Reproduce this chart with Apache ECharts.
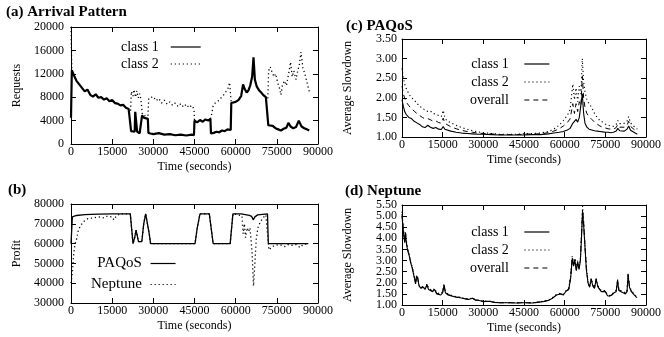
<!DOCTYPE html>
<html>
<head>
<meta charset="utf-8">
<script src="https://cdn.jsdelivr.net/npm/echarts@6/dist/echarts.min.js"></script>
<style>
  html, body { margin: 0; padding: 0; background: #fff; }
  #chart { width: 664px; height: 337px; }
</style>
</head>
<body>
<div id="chart"></div>
<script>
const timeMax = 90000
const timeStep = 15000

// (a) arrival pattern
const arrivalClass1T = [0, 300, 1000, 1500, 2000, 3000, 4000, 5000, 6000, 7000,
  8000, 9000, 10000, 11000, 12000, 13000, 14000, 15000, 16000, 17000,
  18000, 19000, 20000, 21000, 21700, 21900, 22500, 23200, 23400, 23900,
  24100, 25000, 25700, 25900, 26500, 27200, 28000, 28200, 29000, 30000,
  32000, 34000, 36000, 38000, 40000, 42000, 44000, 44800, 45000, 46000,
  47000, 48000, 49000, 50000, 50800, 51000, 52000, 53000, 54000, 55000,
  56000, 57000, 58200, 58400, 59000, 60000, 61000, 62000, 62700, 63300,
  64000, 64700, 65300, 66000, 66500, 67000, 67700, 68500, 69300, 70000,
  71000, 71700, 71900, 72500, 73500, 74500, 75500, 76500, 77500, 78500,
  79200, 80000, 81000, 82000, 83000, 84000, 85000, 86000, 86800]
const arrivalClass1 = [4500, 12600, 11800, 12000, 10800, 10200, 9600, 9000, 9300, 8400,
  8100, 8500, 7900, 8000, 7600, 7800, 7300, 7500, 7000, 6900,
  6600, 6700, 6200, 6000, 5700, 2200, 1900, 2100, 5500, 5300,
  2100, 1800, 2000, 4900, 4500, 4800, 4300, 1900, 1800, 1700,
  1850, 1600, 1700, 1500, 1600, 1450, 1600, 1500, 4000, 3700,
  4100, 3800, 4200, 4000, 4300, 1800, 1900, 2100, 2000, 2300,
  2200, 2500, 2400, 7000, 6800, 7200, 7500, 8200, 10200, 9400,
  8800, 9200, 10000, 11500, 14800, 11000, 9800, 9200, 8800, 8400,
  8000, 7800, 3200, 3000, 3100, 2700, 2500, 2300, 2600, 2800,
  3600, 3000, 2700, 2900, 4000, 3000, 2700, 2500, 2300]
const arrivalClass2T = [0, 300, 1000, 21700, 22000, 22600, 23000, 23500, 24000, 24500,
  25000, 25500, 26000, 27000, 28000, 28300, 29000, 30000, 31000, 32000,
  33000, 34000, 35000, 36000, 37000, 38000, 39000, 40000, 41000, 42000,
  43000, 44000, 44800, 45000, 46000, 50800, 51200, 51800, 52500, 53500,
  54500, 55500, 56500, 57200, 57800, 58200, 58400, 60000, 71700, 72000,
  72600, 73300, 74000, 74600, 75300, 76000, 76500, 77000, 77800, 78500,
  79300, 80000, 80600, 81200, 82000, 82600, 83200, 83800, 84500, 85200,
  86000, 86800]
const arrivalClass2 = [20000, 12600, null, 5700, 9000, 8200, 9300, 8000, 9100, 7900,
  8600, 7600, 5000, 4800, 4300, 7800, 7600, 8100, 7400, 7800,
  7000, 7500, 6800, 7200, 6600, 7000, 6400, 6900, 6300, 6800,
  6200, 6600, 6000, 4000, null, 4300, 5000, 6500, 7000, 7300,
  7800, 8300, 9000, 9500, 10500, 8000, 7000, null, 7800, 12500,
  13200, 12200, 11500, 12000, 10500, 9500, 8400, 10000, 10800, 10000,
  12000, 14000, 11500, 12500, 11000, 12500, 13500, 15700, 13000, 12000,
  10500, 9000]

// (b) profit
const profitPaqosT = [0, 500, 2000, 5000, 10000, 15000, 21600, 22600, 23200, 23700,
  24100, 24600, 25000, 25800, 26500, 27200, 27800, 28500, 29000, 45200,
  46000, 47000, 50400, 51800, 58000, 59000, 62000, 65000, 65800, 66400,
  67000, 68000, 71600, 71900, 86500]
const profitPaqos = [60000, 73500, 74200, 74600, 74900, 75000, 75000, 60000, 63000, 66800,
  66000, 61000, 60000, 61000, 70000, 75000, 74000, 65000, 60000, 60000,
  68000, 75000, 75000, 60000, 60000, 75000, 75000, 74200, 73800, 72000,
  73500, 74500, 75000, 60000, 60000]
const profitNeptuneT = [0, 500, 1000, 1500, 2000, 2700, 3500, 4500, 6000, 8000,
  10000, 12000, 13000, 15000, 15600, 16500, 18000, 21600, 22600, 23200,
  23700, 24100, 24600, 25000, 25800, 26500, 27200, 27800, 28500, 29000,
  45200, 46000, 47000, 50400, 51800, 58000, 59000, 61000, 62300, 62700,
  63200, 63600, 64200, 64700, 65200, 65600, 66000, 66500, 67000, 67500,
  68100, 69000, 70000, 71000, 71600, 72100, 73000, 74000, 76000, 78000,
  79000, 81000, 82000, 83500, 84500, 86500]
const profitNeptune = [40000, 45000, 55000, 60000, 62000, 67000, 69000, 71000, 72500, 73000,
  73500, 73000, 73800, 73500, 72000, 74000, 75000, 75000, 60000, 63000,
  66800, 66000, 61000, 60000, 61000, 70000, 75000, 74000, 65000, 60000,
  60000, 68000, 75000, 75000, 60000, 60000, 75000, 74500, 74000, 65000,
  70000, 63000, 68000, 66000, 68000, 62000, 55000, 38600, 50000, 62000,
  68000, 71000, 73000, 74500, 75000, 56800, 58000, 59000, 59500, 58500,
  59500, 59000, 59500, 58000, 59500, 60000]

// (c) PAQoS slowdown
const paqosT = [0, 500, 1000, 1500, 2500, 3500, 4500, 5500, 6500, 7500,
  8500, 9500, 10500, 11500, 12500, 13500, 14500, 15200, 15800, 16500,
  18000, 20000, 22000, 24000, 26000, 28000, 30000, 33000, 36000, 39000,
  42000, 45000, 48000, 51000, 54000, 56000, 58000, 59500, 61000, 62000,
  63000, 63600, 64200, 64800, 65400, 66000, 66500, 67000, 67500, 68200,
  69000, 70000, 71000, 72000, 73000, 74000, 75000, 76000, 77000, 78000,
  79000, 79600, 80300, 81000, 82000, 83000, 83600, 84300, 85000, 86000,
  86800]
const paqosClass1 = [1.95, 1.78, 1.65, 1.58, 1.5, 1.47, 1.4, 1.36, 1.32, 1.26,
  1.24, 1.3, 1.25, 1.22, 1.24, 1.2, 1.19, 1.27, 1.2, 1.17,
  1.15, 1.12, 1.1, 1.09, 1.08, 1.07, 1.07, 1.06, 1.05, 1.05,
  1.05, 1.05, 1.06, 1.06, 1.08, 1.1, 1.12, 1.14, 1.18, 1.22,
  1.35, 1.3, 1.45, 1.38, 1.5, 1.45, 2.1, 1.6, 1.35, 1.25,
  1.2, 1.18, 1.16, 1.15, 1.14, 1.13, 1.12, 1.12, 1.11, 1.12,
  1.15, 1.22, 1.16, 1.14, 1.15, 1.2, 1.28, 1.17, 1.13, 1.1,
  1.07]
const paqosClass2 = [2.75, 2.5, 2.35, 2.25, 2.1, 2.0, 1.95, 1.85, 1.8, 1.72,
  1.7, 1.65, 1.66, 1.6, 1.58, 1.55, 1.52, 1.68, 1.5, 1.42,
  1.36, 1.3, 1.24, 1.2, 1.16, 1.13, 1.11, 1.09, 1.07, 1.07,
  1.07, 1.08, 1.09, 1.1, 1.14, 1.2, 1.3, 1.42, 1.55, 1.7,
  2.35, 1.95, 2.25, 1.9, 2.3, 2.1, 3.0, 2.4, 2.15, 1.95,
  1.85, 1.75, 1.6, 1.5, 1.42, 1.38, 1.33, 1.3, 1.28, 1.27,
  1.32, 1.42, 1.34, 1.3, 1.35, 1.4, 1.52, 1.36, 1.3, 1.25,
  1.2]
const paqosOverall = [2.3, 2.1, 1.98, 1.9, 1.8, 1.72, 1.66, 1.6, 1.55, 1.5,
  1.46, 1.47, 1.44, 1.4, 1.41, 1.37, 1.35, 1.48, 1.35, 1.3,
  1.26, 1.21, 1.17, 1.14, 1.12, 1.1, 1.09, 1.08, 1.06, 1.06,
  1.06, 1.07, 1.08, 1.08, 1.11, 1.15, 1.21, 1.28, 1.37, 1.46,
  1.85, 1.6, 1.85, 1.65, 1.9, 1.8, 2.55, 2.0, 1.75, 1.6,
  1.52, 1.45, 1.38, 1.33, 1.28, 1.25, 1.23, 1.21, 1.2, 1.2,
  1.24, 1.32, 1.25, 1.22, 1.25, 1.3, 1.4, 1.27, 1.22, 1.17,
  1.13]

// (d) Neptune slowdown
const neptuneT = [0, 300, 700, 1000, 1300, 1700, 2200, 2700, 3200, 3700,
  4200, 4600, 5000, 5400, 5800, 6300, 7000, 7800, 8500, 9200,
  9800, 10500, 11300, 12000, 12800, 13500, 14300, 15000, 15500, 16000,
  17000, 18500, 20000, 21500, 23000, 24500, 26000, 27000, 28500, 30000,
  32000, 34000, 36000, 38000, 40000, 42000, 44000, 46000, 48000, 50000,
  52000, 54000, 55500, 57000, 58500, 59500, 60500, 61500, 62200, 62800,
  63300, 63800, 64300, 64800, 65300, 65800, 66200, 66600, 67000, 67500,
  68000, 68600, 69200, 69800, 70400, 71000, 71600, 72300, 72900, 73500,
  74200, 75000, 75800, 76600, 77400, 78200, 79000, 79500, 80000, 80800,
  81600, 82400, 83000, 83400, 83900, 84600, 85300, 86000, 86600]
const neptuneClass1 = [5.0, 4.6, 4.1, 3.8, 4.2, 3.7, 3.4, 3.2, 2.9, 2.7,
  2.75, 2.2, 1.95, 2.3, 2.2, 1.85, 1.75, 1.8, 1.7, 1.9,
  1.7, 1.75, 1.6, 1.7, 1.5, 1.55, 1.45, 1.55, 1.9, 1.55,
  1.45, 1.4, 1.35, 1.33, 1.28, 1.25, 1.3, 1.22, 1.2, 1.15,
  1.17, 1.12, 1.1, 1.1, 1.1, 1.09, 1.1, 1.1, 1.09, 1.12,
  1.15, 1.2, 1.3, 1.45, 1.5, 1.45, 1.62, 1.7, 2.2, 3.1,
  2.75, 3.0, 2.55, 2.9, 2.6, 3.0, 4.0, 5.2, 4.6, 3.6,
  2.6, 2.0, 1.8, 2.15, 1.85, 1.75, 2.15, 1.8, 1.75, 1.6,
  1.55, 1.6, 1.42, 1.4, 1.45, 1.55, 1.6, 2.1, 1.65, 1.6,
  1.55, 1.5, 1.6, 2.35, 1.8, 1.6, 1.5, 1.42, 1.33]
const neptuneClass2 = [5.2, 4.7, 4.2, 3.9, 4.3, 3.8, 3.5, 3.25, 2.95, 2.75,
  2.8, 2.25, 2.0, 2.35, 2.25, 1.9, 1.8, 1.85, 1.75, 1.95,
  1.75, 1.8, 1.65, 1.75, 1.55, 1.6, 1.5, 1.6, 1.95, 1.6,
  1.5, 1.42, 1.37, 1.35, 1.3, 1.27, 1.32, 1.24, 1.22, 1.17,
  1.18, 1.13, 1.11, 1.11, 1.11, 1.1, 1.11, 1.11, 1.1, 1.13,
  1.17, 1.22, 1.33, 1.48, 1.53, 1.48, 1.66, 1.75, 2.3, 3.2,
  2.85, 3.1, 2.65, 3.0, 2.7, 3.1, 4.2, 5.45, 4.8, 3.7,
  2.7, 2.05, 1.85, 2.2, 1.9, 1.8, 2.2, 1.85, 1.8, 1.65,
  1.6, 1.65, 1.45, 1.43, 1.48, 1.6, 1.65, 2.15, 1.7, 1.65,
  1.6, 1.55, 1.65, 2.4, 1.85, 1.65, 1.55, 1.46, 1.36]
const neptuneOverall = [5.1, 4.65, 4.15, 3.85, 4.25, 3.75, 3.45, 3.22, 2.92, 2.72,
  2.78, 2.22, 1.97, 2.32, 2.22, 1.87, 1.77, 1.82, 1.72, 1.92,
  1.72, 1.77, 1.62, 1.72, 1.52, 1.57, 1.47, 1.57, 1.92, 1.57,
  1.47, 1.41, 1.36, 1.34, 1.29, 1.26, 1.31, 1.23, 1.21, 1.16,
  1.17, 1.12, 1.1, 1.1, 1.1, 1.09, 1.1, 1.1, 1.09, 1.12,
  1.16, 1.21, 1.31, 1.46, 1.51, 1.46, 1.64, 1.72, 2.25, 3.15,
  2.8, 3.05, 2.6, 2.95, 2.65, 3.05, 4.1, 5.3, 4.7, 3.65,
  2.65, 2.02, 1.82, 2.17, 1.87, 1.77, 2.17, 1.82, 1.77, 1.62,
  1.57, 1.62, 1.43, 1.41, 1.46, 1.57, 1.62, 2.12, 1.67, 1.62,
  1.57, 1.52, 1.62, 2.37, 1.82, 1.62, 1.52, 1.44, 1.34]

const font = "Liberation Serif"
const black = "#000"
const dotted = [1.2, 2.8]
const dashed = [5, 4]

const pairs = (ts, vs) => ts.map((t, i) => [t, vs[i]])

function timeAxes(grid) {
  const base = {
    type: "value", gridIndex: grid, min: 0, max: timeMax, interval: timeStep,
    axisLine: { onZero: false, lineStyle: { color: black, width: 1 } },
    axisTick: { inside: true, length: 5, lineStyle: { color: black } },
    splitLine: { show: false },
  }
  return [
    {
      ...base, position: "bottom",
      name: "Time (seconds)", nameLocation: "middle", nameGap: 17,
      nameTextStyle: { fontFamily: font, fontSize: 12, color: black },
      axisLabel: {
        margin: 2, fontFamily: font, fontSize: 12, color: black,
        showMinLabel: true, showMaxLabel: true,
        formatter: (v) => String(v),
      },
    },
    { ...base, position: "top", axisLabel: { show: false } },
  ]
}

const labelStyle = (margin, decimals) => ({
  margin, fontFamily: font, fontSize: 12, color: black,
  formatter: (v) => v.toFixed(decimals),
})

// crowded = true: ECharts would drop the labels next to min/max, so the end labels
// are drawn by an extra label-only axis instead
function valueAxes(grid, min, max, interval, decimals, name, margin, nameGap, crowded) {
  const base = {
    type: "value", gridIndex: grid, min, max, interval,
    axisLine: { onZero: false, lineStyle: { color: black, width: 1 } },
    axisTick: { inside: true, length: 5, lineStyle: { color: black } },
    splitLine: { show: false },
  }
  const axes = [
    {
      ...base, position: "left",
      name, nameLocation: "middle", nameGap,
      nameTextStyle: { fontFamily: font, fontSize: 12, color: black },
      axisLabel: {
        ...labelStyle(margin, decimals),
        showMinLabel: !crowded, showMaxLabel: !crowded,
      },
    },
    { ...base, position: "right", axisLabel: { show: false } },
  ]
  if (crowded) {
    axes.push({
      type: "value", gridIndex: grid, min, max, interval: max - min, position: "left",
      axisLine: { show: false }, axisTick: { show: false }, splitLine: { show: false },
      axisLabel: { ...labelStyle(margin, decimals), showMinLabel: true, showMaxLabel: true },
    })
  }
  return axes
}

function line(name, grid, data, width, type) {
  return {
    name, type: "line", xAxisIndex: grid * 2, yAxisIndex: grid * 2,
    data, symbol: "none", showSymbol: false, connectNulls: false,
    lineStyle: { color: black, width, type },
    itemStyle: { color: black },
    emphasis: { disabled: true },
  }
}

function legend(names, left, top, gap, width, pad, size) {
  return {
    data: names, orient: "vertical", align: "right", left, top,
    itemWidth: width, itemHeight: 14, itemGap: gap,
    inactiveColor: black,
    itemStyle: { opacity: 0 },
    lineStyle: { width: 1.2 },
    formatter: (n) => n + pad,
    textStyle: { fontFamily: font, fontSize: size, color: black, lineHeight: 14 },
  }
}

const titleStyle = { fontFamily: font, fontSize: 15, fontWeight: "bold", color: black }

const chart = echarts.init(document.getElementById("chart"), null, { renderer: "canvas" })

chart.setOption({
  backgroundColor: "#fff",
  animation: false,
  title: [
    { text: "(a) Arrival Pattern", left: 6, top: 5, padding: 0, textStyle: titleStyle },
    { text: "(b)", left: 8, top: 183, padding: 0, textStyle: titleStyle },
    { text: "(c) PAQoS", left: 346, top: 19, padding: 0, textStyle: titleStyle },
    { text: "(d) Neptune", left: 345, top: 184, padding: 0, textStyle: titleStyle },
  ],
  grid: [
    { left: 71, top: 27, width: 247, height: 117 },
    { left: 71, top: 204, width: 247, height: 99 },
    { left: 402, top: 39, width: 249, height: 98 },
    { left: 402, top: 205, width: 249, height: 100 },
  ],
  xAxis: [...timeAxes(0), ...timeAxes(1), ...timeAxes(2), ...timeAxes(3)],
  yAxis: [
    ...valueAxes(0, 0, 20000, 4000, 0, "Requests", 7, 48, false),
    ...valueAxes(1, 30000, 80000, 10000, 0, "Profit", 7, 48, false),
    ...valueAxes(2, 1, 3.5, 0.5, 2, "Average Slowdown", 5, 48, false),
    ...valueAxes(3, 1, 5.5, 0.5, 2, "Average Slowdown", 5, 48, true),
  ],
  legend: [
    legend(["class 1", "class 2"], 116, 35, 3, 30, "  ", 14),
    legend(["PAQoS", "Neptune"], 86, 251, 6, 25, " ", 15),
    legend(["class 1", "class 2", "overall"], 465, 52, 4, 25, "   ", 14),
    legend(["class 1", "class 2", "overall"], 465, 220, 4, 25, "   ", 14),
  ],
  series: [
    line("class 2", 0, pairs(arrivalClass2T, arrivalClass2), 1.3, dotted),
    line("class 1", 0, pairs(arrivalClass1T, arrivalClass1), 2.2, "solid"),

    line("Neptune", 1, pairs(profitNeptuneT, profitNeptune), 1.3, dotted),
    line("PAQoS", 1, pairs(profitPaqosT, profitPaqos), 1.3, "solid"),

    line("class 2", 2, pairs(paqosT, paqosClass2), 1.1, dotted),
    line("overall", 2, pairs(paqosT, paqosOverall), 1, dashed),
    line("class 1", 2, pairs(paqosT, paqosClass1), 1.1, "solid"),

    line("class 2", 3, pairs(neptuneT, neptuneClass2), 1.1, dotted),
    line("overall", 3, pairs(neptuneT, neptuneOverall), 1, dashed),
    line("class 1", 3, pairs(neptuneT, neptuneClass1), 1.1, "solid"),
  ],
})
</script>
</body>
</html>
